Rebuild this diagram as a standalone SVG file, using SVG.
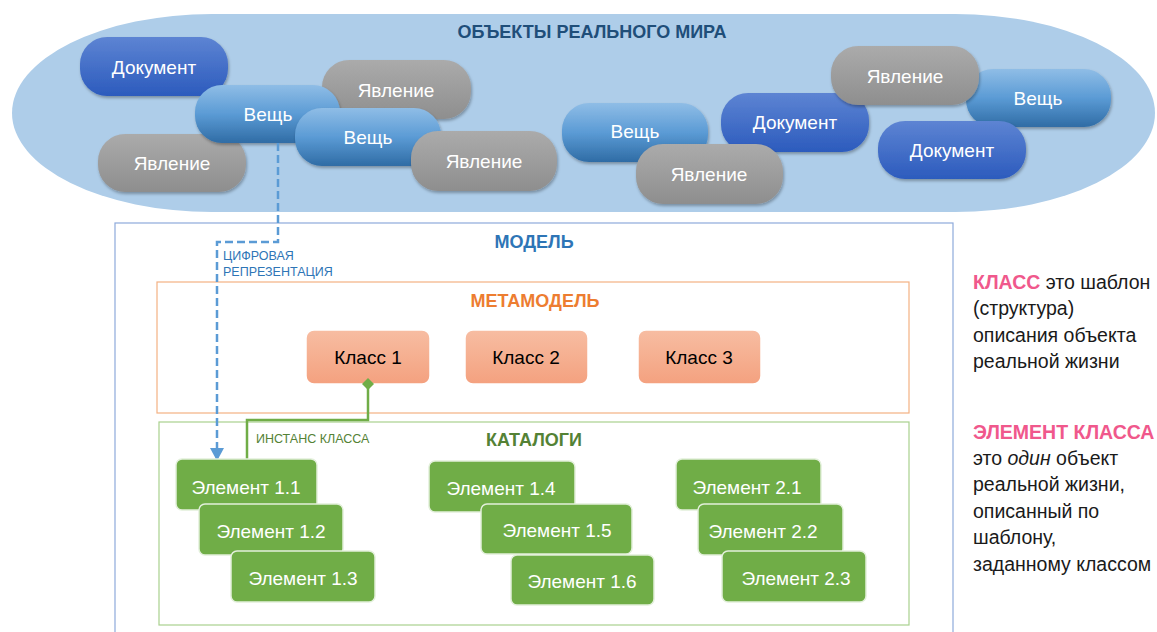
<svg xmlns="http://www.w3.org/2000/svg" width="1157" height="632" viewBox="0 0 1157 632">
<defs>
<linearGradient id="gDoc" x1="0" y1="0" x2="0" y2="1"><stop offset="0" stop-color="#5d84d3"/><stop offset="1" stop-color="#2c5bbd"/></linearGradient>
<linearGradient id="gVes" x1="0" y1="0" x2="0" y2="1"><stop offset="0" stop-color="#8fbde6"/><stop offset="0.5" stop-color="#5b9bd5"/><stop offset="1" stop-color="#2f6ca5"/></linearGradient>
<linearGradient id="gYav" x1="0" y1="0" x2="0" y2="1"><stop offset="0" stop-color="#ababab"/><stop offset="1" stop-color="#8e8e8e"/></linearGradient>
<linearGradient id="gCls" x1="0" y1="0" x2="0" y2="1"><stop offset="0" stop-color="#f7bda2"/><stop offset="1" stop-color="#f4a17f"/></linearGradient>
<filter id="sh" x="-10%" y="-10%" width="120%" height="130%"><feDropShadow dx="1" dy="2" stdDeviation="1.5" flood-color="#000" flood-opacity="0.3"/></filter>
<marker id="arrB" markerWidth="14" markerHeight="14" refX="12" refY="7" orient="auto" markerUnits="userSpaceOnUse" viewBox="0 0 14 14"><path d="M0,0 L13,7 L0,14 Z" fill="#5b9bd5"/></marker>
<style>
.t{font-family:"Liberation Sans",Arial,sans-serif}
.pill text,.el text{fill:#fff;font-size:19px;text-anchor:middle;dominant-baseline:central}
.doc rect{fill:url(#gDoc)}
.ves rect{fill:url(#gVes)}
.yav rect{fill:url(#gYav)}
.pill rect{filter:url(#sh)}
.cls rect{fill:url(#gCls);stroke:#fff;stroke-width:1.5}
.cls text{fill:#000;font-size:19px;text-anchor:middle;dominant-baseline:central}
.el rect{fill:#70ad47;stroke:#e2efda;stroke-width:1.5}
.hd{font-weight:bold;font-size:18px;text-anchor:middle;dominant-baseline:central}
.side{font-size:19.5px;fill:#1a1a1a}
.pink{fill:#f0588c;font-weight:bold}
</style>
</defs>
<rect x="0" y="0" width="1157" height="632" fill="#fff"/>

<g id="world">
<rect x="12" y="14" width="1143" height="198" rx="200" ry="99" fill="#aecde9"/>
<text class="t hd" x="592" y="32" fill="#1f4e79">ОБЪЕКТЫ РЕАЛЬНОГО МИРА</text>
</g>

<g id="doc1" class="t pill doc"><rect x="80" y="37" width="148" height="59" rx="27"/><text x="154" y="67">Документ</text></g>
<g id="yav2" class="t pill yav"><rect x="98" y="134" width="148" height="58" rx="27"/><text x="172" y="163">Явление</text></g>
<g id="yav1" class="t pill yav"><rect x="322" y="60" width="149" height="59" rx="27"/><text x="396" y="90">Явление</text></g>
<g id="ves1" class="t pill ves"><rect x="195" y="85" width="145" height="58" rx="27"/><text x="268" y="114">Вещь</text></g>
<g id="ves2" class="t pill ves"><rect x="295" y="108" width="146" height="58" rx="27"/><text x="368" y="137">Вещь</text></g>
<g id="yav3" class="t pill yav"><rect x="411" y="131" width="146" height="60" rx="27"/><text x="484" y="161">Явление</text></g>
<g id="ves3" class="t pill ves"><rect x="562" y="103" width="146" height="59" rx="27"/><text x="635" y="131">Вещь</text></g>
<g id="doc2" class="t pill doc"><rect x="721" y="93" width="148" height="59" rx="27"/><text x="795" y="122">Документ</text></g>
<g id="yav4" class="t pill yav"><rect x="636" y="144" width="147" height="60" rx="27"/><text x="709" y="174">Явление</text></g>
<g id="ves4" class="t pill ves"><rect x="966" y="69" width="145" height="58" rx="27"/><text x="1038" y="98">Вещь</text></g>
<g id="yav5" class="t pill yav"><rect x="831" y="46" width="148" height="59" rx="27"/><text x="905" y="76">Явление</text></g>
<g id="doc3" class="t pill doc"><rect x="878" y="121" width="148" height="58" rx="27"/><text x="952" y="150">Документ</text></g>

<g id="model">
<rect x="115" y="223" width="838" height="420" fill="none" stroke="#8eaadb" stroke-width="1.2"/>
<text class="t hd" x="534" y="242" fill="#2e75b6">МОДЕЛЬ</text>
</g>
<g id="metamodel">
<rect x="157" y="282" width="752" height="131" fill="none" stroke="#f4b183" stroke-width="1.2"/>
<text class="t hd" x="535" y="301" fill="#ed7d31">МЕТАМОДЕЛЬ</text>
</g>
<g id="catalogs">
<rect x="159" y="422" width="750" height="203" fill="none" stroke="#a9d18e" stroke-width="1.2"/>
<text class="t hd" x="534" y="440" fill="#548235">КАТАЛОГИ</text>
</g>

<g id="cls1" class="t cls"><rect x="306" y="330" width="124" height="54" rx="8"/><text x="368" y="357">Класс 1</text></g>
<g id="cls2" class="t cls"><rect x="465" y="330" width="123" height="54" rx="8"/><text x="526" y="357">Класс 2</text></g>
<g id="cls3" class="t cls"><rect x="638" y="330" width="123" height="54" rx="8"/><text x="699" y="357">Класс 3</text></g>

<g id="connectors">
<path d="M278,143 V242 H217 V460" fill="none" stroke="#5b9bd5" stroke-width="2.5" stroke-dasharray="8,4" marker-end="url(#arrB)"/>
<path d="M368,384 V420 H247 V460" fill="none" stroke="#70ad47" stroke-width="2.5"/>
<path d="M368,378 L374,384 L368,390 L362,384 Z" fill="#70ad47"/>
<text class="t" x="223" y="260" font-size="12.5" fill="#2e75b6">ЦИФРОВАЯ</text>
<text class="t" x="223" y="276" font-size="12.5" fill="#2e75b6">РЕПРЕЗЕНТАЦИЯ</text>
<text class="t" x="256" y="443" font-size="12.5" fill="#548235">ИНСТАНС КЛАССА</text>
</g>

<g id="e11" class="t el"><rect x="176" y="459" width="141" height="51" rx="6"/><text x="246" y="487">Элемент 1.1</text></g>
<g id="e12" class="t el"><rect x="199" y="504" width="144" height="51" rx="6"/><text x="271" y="531">Элемент 1.2</text></g>
<g id="e13" class="t el"><rect x="231" y="551" width="144" height="51" rx="6"/><text x="303" y="578">Элемент 1.3</text></g>
<g id="e14" class="t el"><rect x="429" y="461" width="146" height="51" rx="6"/><text x="501" y="488">Элемент 1.4</text></g>
<g id="e15" class="t el"><rect x="481" y="504" width="151" height="50" rx="6"/><text x="557" y="530">Элемент 1.5</text></g>
<g id="e16" class="t el"><rect x="511" y="555" width="143" height="50" rx="6"/><text x="582" y="581">Элемент 1.6</text></g>
<g id="e21" class="t el"><rect x="676" y="459" width="145" height="51" rx="6"/><text x="747" y="487">Элемент 2.1</text></g>
<g id="e22" class="t el"><rect x="698" y="504" width="145" height="51" rx="6"/><text x="763" y="531">Элемент 2.2</text></g>
<g id="e23" class="t el"><rect x="722" y="551" width="144" height="51" rx="6"/><text x="796" y="578">Элемент 2.3</text></g>

<g id="notes" class="t side">
<text x="973" y="289"><tspan class="pink">КЛАСС</tspan> это шаблон</text>
<text x="973" y="315">(структура)</text>
<text x="973" y="342">описания объекта</text>
<text x="973" y="368">реальной жизни</text>
<text x="973" y="439" class="pink">ЭЛЕМЕНТ КЛАССА</text>
<text x="973" y="465">это <tspan font-style="italic">один</tspan> объект</text>
<text x="973" y="491">реальной жизни,</text>
<text x="973" y="518">описанный по</text>
<text x="973" y="544">шаблону,</text>
<text x="973" y="571">заданному классом</text>
</g>
</svg>
